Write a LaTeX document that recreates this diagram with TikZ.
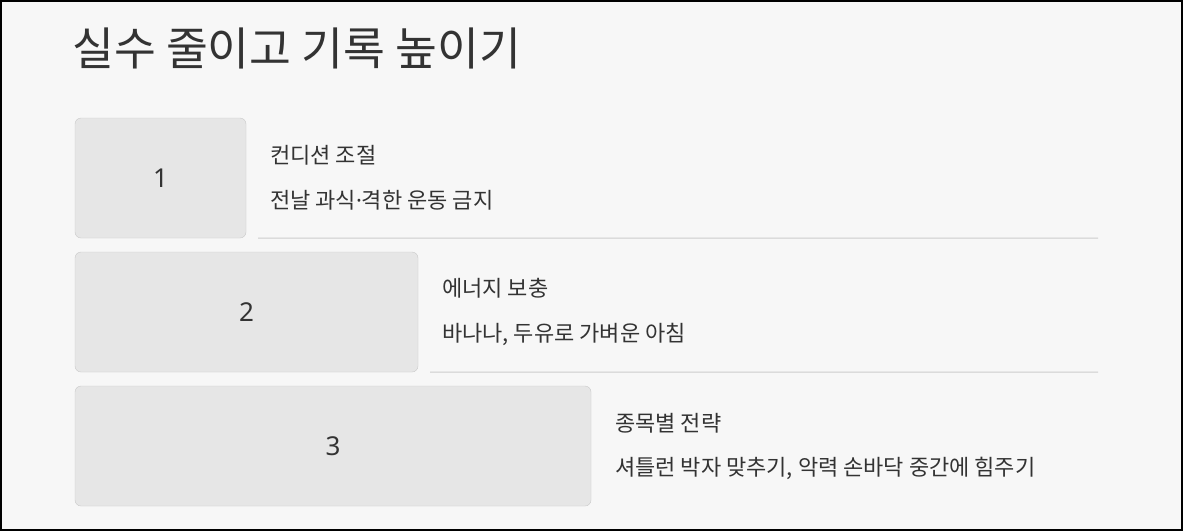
\documentclass[tikz,border=0pt]{standalone}
\usepackage{fontspec}
\setmainfont{Noto Sans CJK KR}
\newfontfamily\latinfont{Noto Sans}
\definecolor{pagebg}{HTML}{F7F7F7}
\definecolor{boxfill}{HTML}{E6E6E6}
\definecolor{boxline}{HTML}{C9C9C9}
\definecolor{ink}{HTML}{333333}
\definecolor{rule}{HTML}{CCCCCC}
\tikzset{
	numbox/.style={draw=boxline, fill=boxfill, rounded corners=6pt, minimum height=120pt, text=ink, font=\latinfont\fontsize{26}{30}\selectfont, inner sep=0pt},
	head/.style={anchor=west, text=ink, font=\fontsize{22}{26}\selectfont, inner sep=0pt},
	sepline/.style={draw=rule, line width=1pt}
}
\begin{document}
\begin{tikzpicture}[x=1pt,y=-1pt]
	\useasboundingbox (0,0) rectangle (1183,531);
	\filldraw[fill=pagebg, draw=black, line width=2pt] (1,1) rectangle (1182,530);
	\node[anchor=base west, inner sep=0pt, text=ink, font=\fontsize{45.5}{50}\selectfont] (title) at (72,65) {실수 줄이고 기록 높이기};
	
	\node[numbox, minimum width=171pt] (b1) at (160.5,178) {1};
	\node[head] (h1) at (270,155) {컨디션 조절};
	\node[head] (d1) at (270,200) {전날 과식{\latinfont ·}격한 운동 금지};
	\coordinate (e1) at (1098,238);
	\draw[sepline] ([xshift=12pt]b1.south east) -- (e1);
	
	\node[numbox, minimum width=343pt] (b2) at (246.5,312) {2};
	\node[head] (h2) at (442,288) {에너지 보충};
	\node[head] (d2) at (442,334) {바나나, 두유로 가벼운 아침};
	\coordinate (e2) at (1098,372);
	\draw[sepline] ([xshift=12pt]b2.south east) -- (e2);
	
	\node[numbox, minimum width=516pt] (b3) at (333,446) {3};
	\node[head] (h3) at (615,423) {종목별 전략};
	\node[head] (d3) at (615,468) {셔틀런 박자 맞추기, 악력 손바닥 중간에 힘주기};
\end{tikzpicture}
\end{document}
